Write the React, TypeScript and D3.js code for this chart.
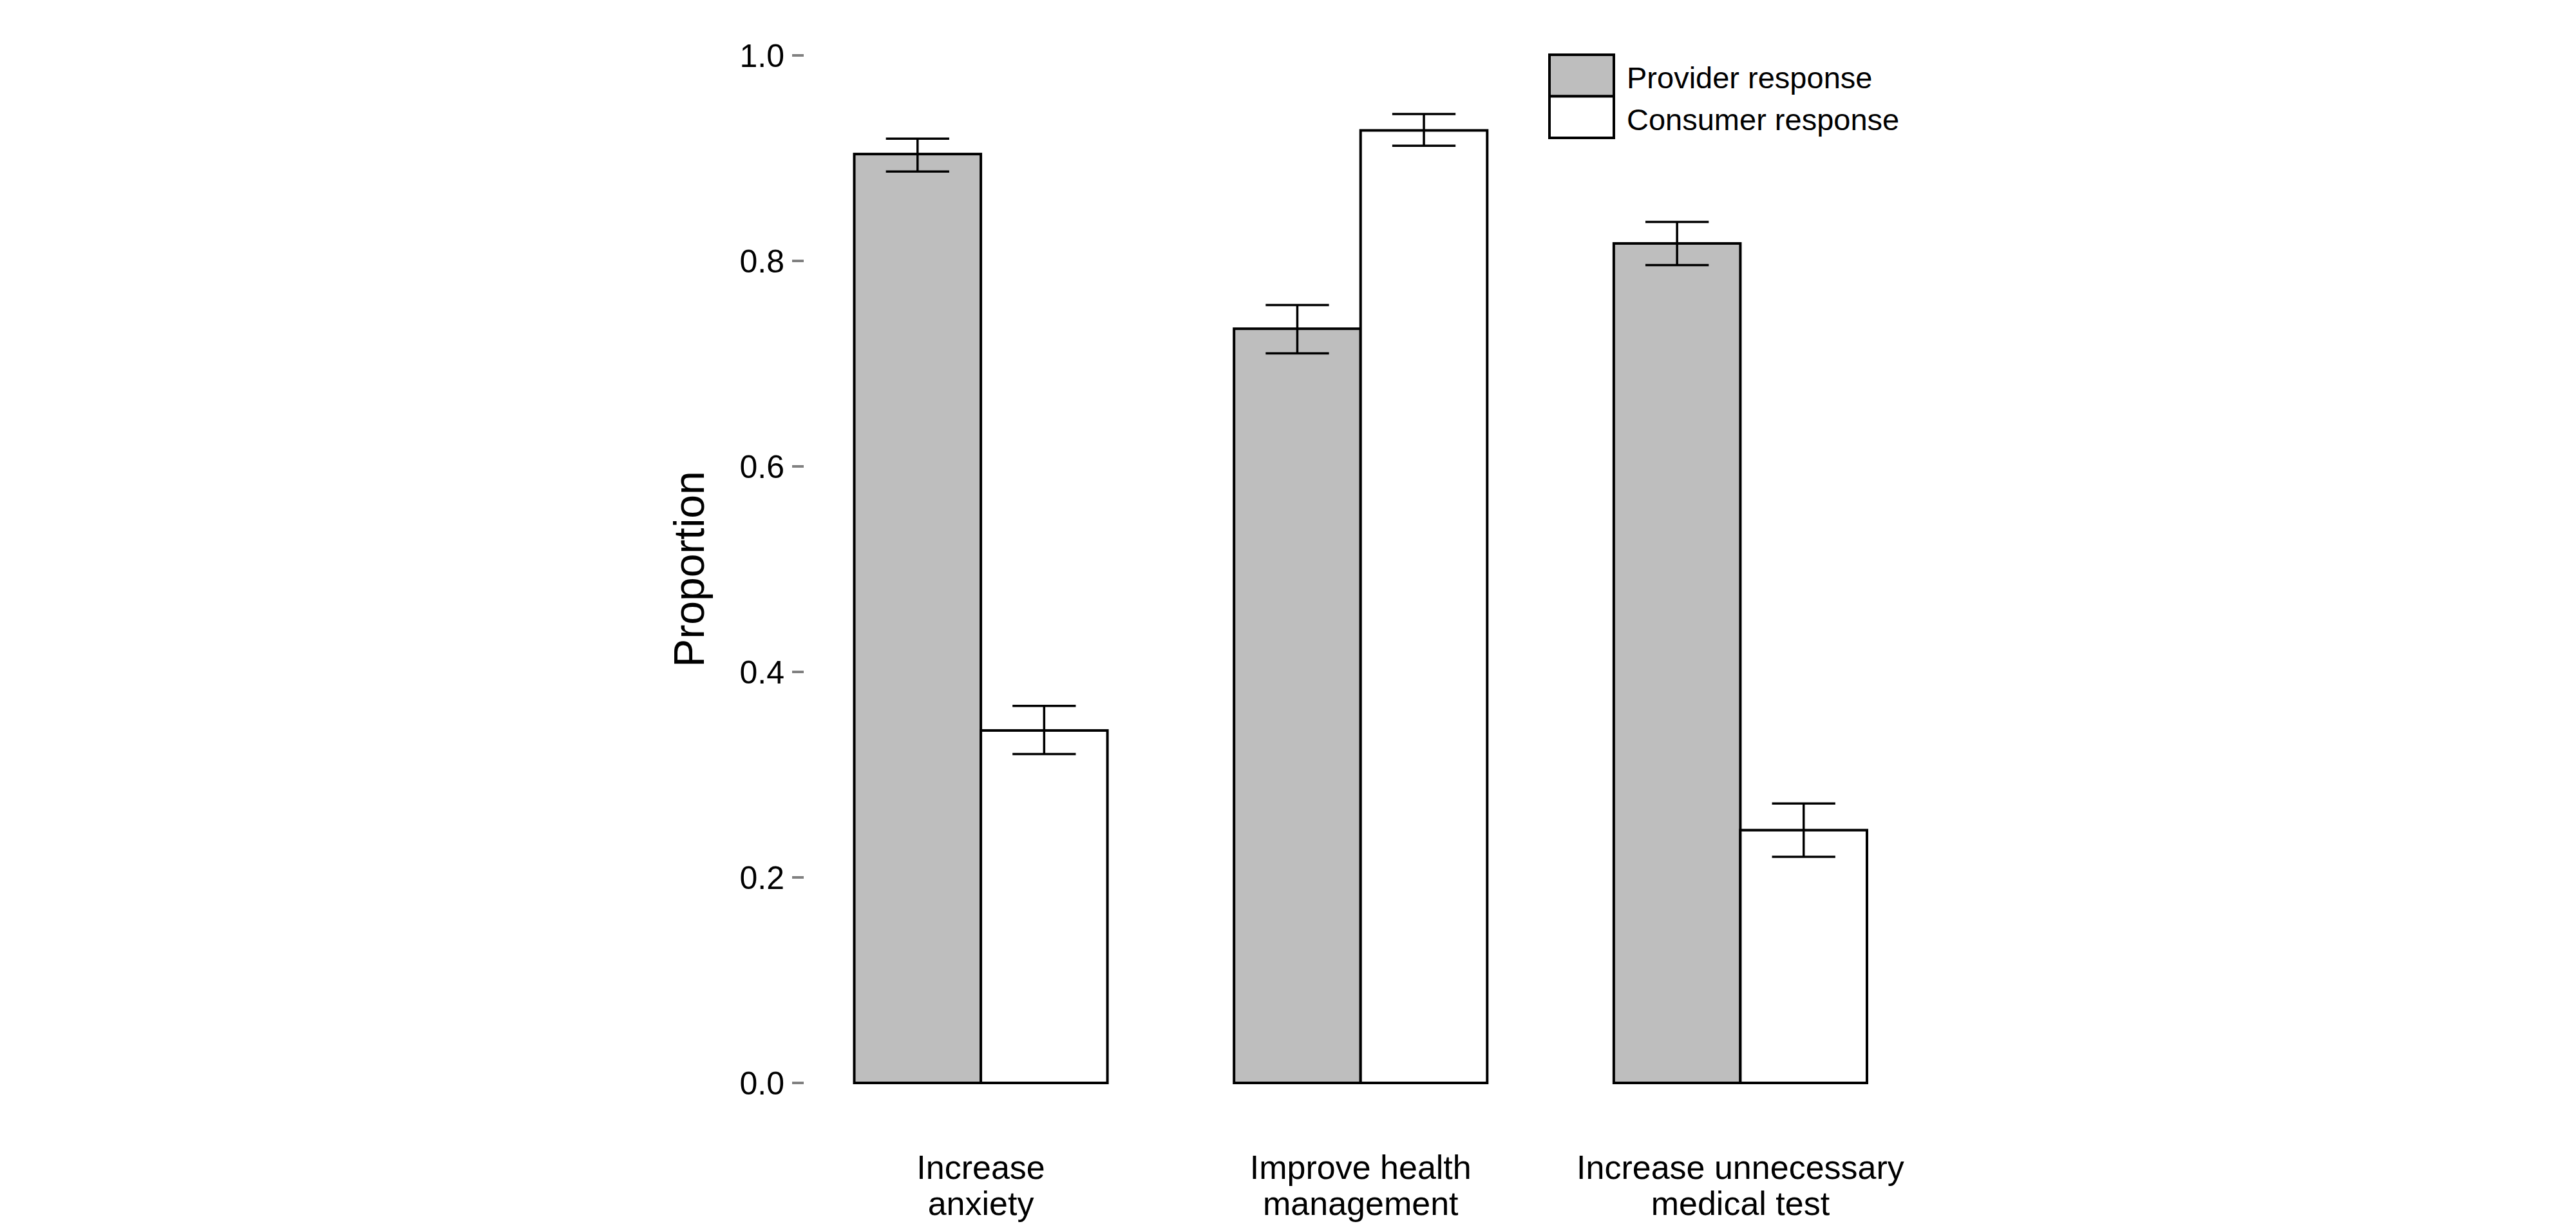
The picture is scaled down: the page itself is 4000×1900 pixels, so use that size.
import * as d3 from "d3"
import { useEffect, useRef } from "react"

const categories = ["Increase\nanxiety", "Improve health\nmanagement", "Increase unnecessary\nmedical test"]
const seriesNames = ["Provider response", "Consumer response"]
const providerValues = [0.904, 0.734, 0.817]
const providerLower = [0.887, 0.710, 0.796]
const providerUpper = [0.919, 0.757, 0.838]
const consumerValues = [0.343, 0.927, 0.246]
const consumerLower = [0.320, 0.912, 0.220]
const consumerUpper = [0.367, 0.943, 0.272]
const yTicks = [0, 0.2, 0.4, 0.6, 0.8, 1.0]
const seriesColors = ["#bebebe", "#ffffff"]

function BarChart() {
    const ref = useRef<SVGSVGElement | null>(null)

    useEffect(() => {
        const width = 4000
        const height = 1900
        const font = "'Liberation Sans', Arial, sans-serif"

        const svg = d3.select(ref.current)
        svg.selectAll("*").remove()
        svg.attr("width", width).attr("height", height)

        const x = d3.scaleBand<string>()
            .domain(categories)
            .range([1326.5, 2899])
            .paddingInner(1 / 3)
            .paddingOuter(0)

        const xSub = d3.scaleBand<string>()
            .domain(seriesNames)
            .range([0, x.bandwidth()])
            .padding(0)

        const y = d3.scaleLinear().domain([0, 1]).range([1681, 86])

        const rows = categories.flatMap((c, i) => [
            { cat: c, series: seriesNames[0], value: providerValues[i], lo: providerLower[i], hi: providerUpper[i], color: seriesColors[0] },
            { cat: c, series: seriesNames[1], value: consumerValues[i], lo: consumerLower[i], hi: consumerUpper[i], color: seriesColors[1] },
        ])

        // y axis: grey ticks, no domain line
        const yAxis = svg.append("g")
        yAxis.selectAll("line")
            .data(yTicks)
            .join("line")
            .attr("x1", 1230)
            .attr("x2", 1248)
            .attr("y1", (d) => y(d))
            .attr("y2", (d) => y(d))
            .attr("stroke", "#808080")
            .attr("stroke-width", 4)
        yAxis.selectAll("text")
            .data(yTicks)
            .join("text")
            .attr("x", 1218)
            .attr("y", (d) => y(d))
            .attr("dy", "0.36em")
            .attr("text-anchor", "end")
            .attr("font-family", font)
            .attr("font-size", 50)
            .text((d) => d3.format(".1f")(d))

        svg.append("text")
            .attr("transform", `translate(1093,${(y(0) + y(1)) / 2}) rotate(-90)`)
            .attr("text-anchor", "middle")
            .attr("font-family", font)
            .attr("font-size", 66)
            .text("Proportion")

        // bars
        svg.append("g")
            .selectAll("rect")
            .data(rows)
            .join("rect")
            .attr("x", (d) => (x(d.cat) ?? 0) + (xSub(d.series) ?? 0))
            .attr("y", (d) => y(d.value))
            .attr("width", xSub.bandwidth())
            .attr("height", (d) => y(0) - y(d.value))
            .attr("fill", (d) => d.color)
            .attr("stroke", "#000")
            .attr("stroke-width", 4)

        // error bars
        const err = svg.append("g").attr("stroke", "#000").attr("stroke-width", 3.5)
        const cx = (d: typeof rows[number]) => (x(d.cat) ?? 0) + (xSub(d.series) ?? 0) + xSub.bandwidth() / 2
        const cap = xSub.bandwidth() / 4
        err.selectAll(".stem")
            .data(rows)
            .join("line")
            .attr("x1", cx).attr("x2", cx)
            .attr("y1", (d) => y(d.lo)).attr("y2", (d) => y(d.hi))
        err.selectAll(".capHi")
            .data(rows)
            .join("line")
            .attr("x1", (d) => cx(d) - cap).attr("x2", (d) => cx(d) + cap)
            .attr("y1", (d) => y(d.hi)).attr("y2", (d) => y(d.hi))
        err.selectAll(".capLo")
            .data(rows)
            .join("line")
            .attr("x1", (d) => cx(d) - cap).attr("x2", (d) => cx(d) + cap)
            .attr("y1", (d) => y(d.lo)).attr("y2", (d) => y(d.lo))

        // category labels
        const labels = svg.append("g")
            .attr("font-family", font)
            .attr("font-size", 52)
            .attr("text-anchor", "middle")
        labels.selectAll("text")
            .data(categories)
            .join("text")
            .attr("x", (d) => (x(d) ?? 0) + x.bandwidth() / 2)
            .attr("y", 1830)
            .selectAll("tspan")
            .data((d) => d.split("\n"))
            .join("tspan")
            .attr("x", function () {
                return (this.parentNode as SVGTextElement).getAttribute("x")
            })
            .attr("dy", (_, i) => (i === 0 ? 0 : 56))
            .text((d) => d)

        // legend
        const legend = svg.append("g").attr("transform", "translate(2406,85)")
        const item = legend.selectAll("g")
            .data(seriesNames)
            .join("g")
            .attr("transform", (_, i) => `translate(0,${i * 64.5})`)
        item.append("rect")
            .attr("width", 100)
            .attr("height", 64.5)
            .attr("fill", (_, i) => seriesColors[i])
            .attr("stroke", "#000")
            .attr("stroke-width", 4)
        item.append("text")
            .attr("x", 120)
            .attr("y", 52)
            .attr("font-family", font)
            .attr("font-size", 47)
            .text((d) => d)
    }, [])

    return <svg ref={ref} style={{ position: "absolute", left: 0, top: 0, display: "block", background: "#fff" }} />
}

export default function App() {
    return <BarChart />
}
